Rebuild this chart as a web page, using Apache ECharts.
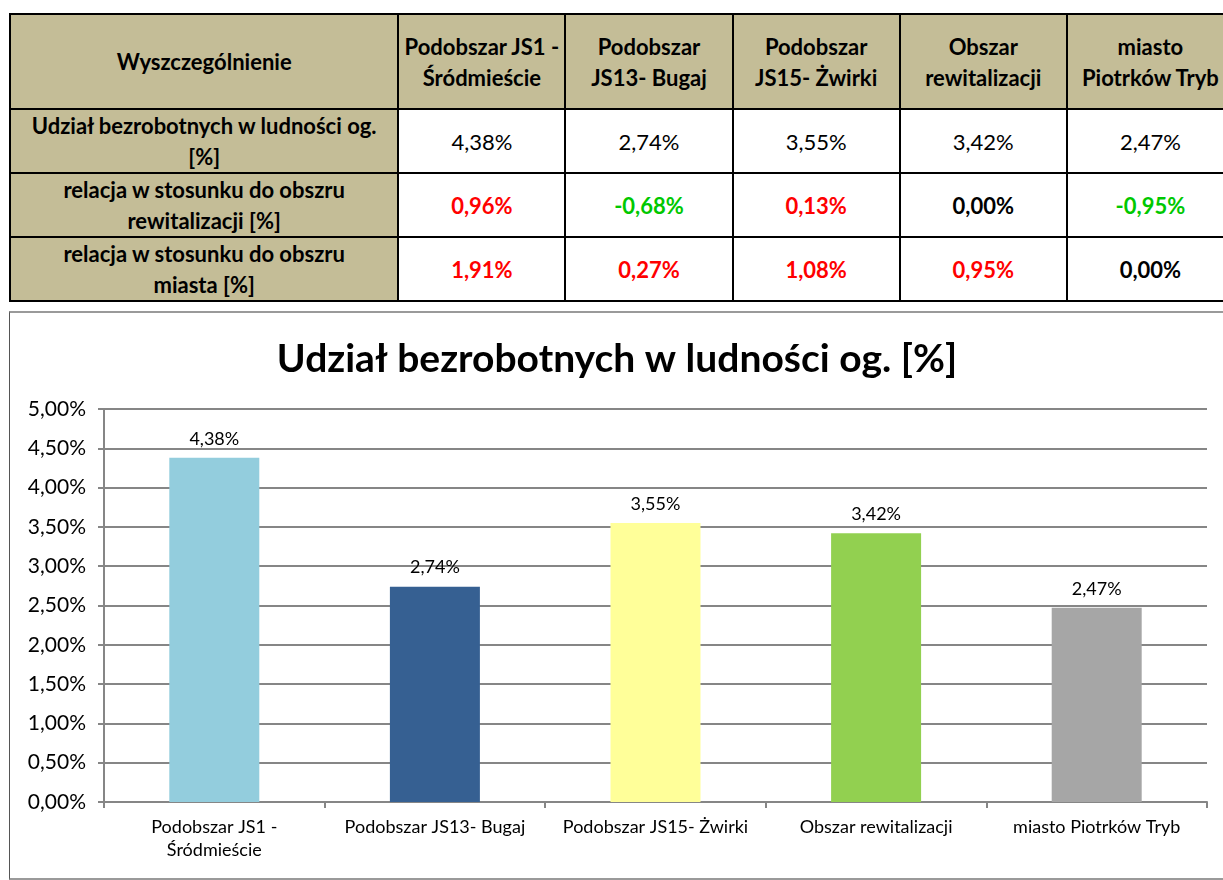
<!DOCTYPE html>
<html>
<head>
<meta charset="utf-8">
<script src="https://cdn.jsdelivr.net/npm/echarts@6/dist/echarts.min.js"></script>
<style>
    html, body { margin: 0; padding: 0; background: #fff; overflow: hidden; width: 1223px; height: 880px; }
    body { position: relative; font-family: Lato, "Noto Sans", sans-serif; }
    #tbl {
        position: absolute; left: 9px; top: 13px;
        border-collapse: collapse; table-layout: fixed;
        width: 1226px;
    }
    #tbl td {
        border: 2px solid #000; text-align: center; vertical-align: middle;
        font-size: 22px; line-height: 31px; padding: 0; color: #000;
        overflow: hidden; white-space: nowrap;
    }
    #tbl td.h { background: #c4bd97; font-weight: bold; }
    #tbl td.b { font-weight: bold; }
    #tbl tr.head td { height: 93px; }
    #tbl tr.row td { height: 62px; }
    #main {
        position: absolute; left: 9px; top: 311px;
        width: 1214px; height: 565px;
        border-top: 2px solid #9a9a9a; border-bottom: 2px solid #9a9a9a; border-left: 1px solid #555;
    }
</style>
</head>
<body>
<table id="tbl"></table>
<div id="main"></div>
<script>
// kategorie (obszary)
var categories = ['Podobszar JS1 -\nŚródmieście', 'Podobszar JS13- Bugaj', 'Podobszar JS15- Żwirki', 'Obszar rewitalizacji', 'miasto Piotrków Tryb'];
var headers = ['Podobszar JS1 -<br>Śródmieście', 'Podobszar<br>JS13- Bugaj', 'Podobszar<br>JS15- Żwirki', 'Obszar<br>rewitalizacji', 'miasto<br>Piotrków Tryb'];
var rowLabels = ['Udział bezrobotnych w ludności og.<br>[%]', 'relacja w stosunku do obszru<br>rewitalizacji [%]', 'relacja w stosunku do obszru<br>miasta [%]'];
// wartości
var udzial = [4.38, 2.74, 3.55, 3.42, 2.47];
var relRewitalizacja = [0.96, -0.68, 0.13, 0.00, -0.95];
var relMiasto = [1.91, 0.27, 1.08, 0.95, 0.00];
var barColors = ['#93cddd', '#366092', '#ffff99', '#92d050', '#a6a6a6'];

function fmt(v) {
    return v.toFixed(2).replace('.', ',') + '%';
}

// tabela nad wykresem
var html = '<colgroup><col style="width:388px">';
for (var i = 0; i < 5; i++) html += '<col style="width:167px">';
html += '</colgroup><tr class="head"><td class="h">Wyszczególnienie</td>';
headers.forEach(function (h) { html += '<td class="h">' + h + '</td>'; });
html += '</tr>';
html += '<tr class="row"><td class="h">' + rowLabels[0] + '</td>';
udzial.forEach(function (v) { html += '<td>' + fmt(v) + '</td>'; });
html += '</tr>';
[relRewitalizacja, relMiasto].forEach(function (arr, r) {
    html += '<tr class="row"><td class="h">' + rowLabels[r + 1] + '</td>';
    arr.forEach(function (v) {
        var c = v > 0 ? '#ff0000' : (v < 0 ? '#00c800' : '#000');
        html += '<td class="b" style="color:' + c + '">' + fmt(v) + '</td>';
    });
    html += '</tr>';
});
document.getElementById('tbl').innerHTML = html;

// wykres
var myChart = echarts.init(document.getElementById('main'));
myChart.setOption({
    animation: false,
    textStyle: { fontFamily: 'Lato, "Noto Sans", sans-serif' },
    title: {
        text: 'Udział bezrobotnych w ludności og. [%]',
        left: 'center',
        top: 22,
        textStyle: { fontSize: 39, fontWeight: 'bold', color: '#000' }
    },
    grid: { left: 94, top: 96, width: 1103, bottom: 76 },
    xAxis: {
        type: 'category',
        data: categories,
        axisLine: { lineStyle: { color: '#868686', width: 2 } },
        axisTick: { show: true, length: 6, lineStyle: { color: '#868686', width: 2 } },
        axisLabel: { fontSize: 18, color: '#000', margin: 14, lineHeight: 23, interval: 0 }
    },
    yAxis: {
        type: 'value',
        min: 0, max: 5, interval: 0.5,
        axisLine: { show: true, lineStyle: { color: '#868686', width: 2 } },
        axisTick: { show: true, length: 6, lineStyle: { color: '#868686', width: 2 } },
        splitLine: { lineStyle: { color: '#868686', width: 2 } },
        axisLabel: {
            fontSize: 21, color: '#000', margin: 18,
            formatter: function (v) { return fmt(v); }
        }
    },
    series: [{
        type: 'bar',
        barWidth: 90,
        data: udzial.map(function (v, i) {
            return { value: v, itemStyle: { color: barColors[i] } };
        }),
        label: {
            show: true, position: 'top', distance: 10,
            fontSize: 18, color: '#000',
            formatter: function (p) { return fmt(p.value); }
        }
    }]
});
</script>
</body>
</html>
